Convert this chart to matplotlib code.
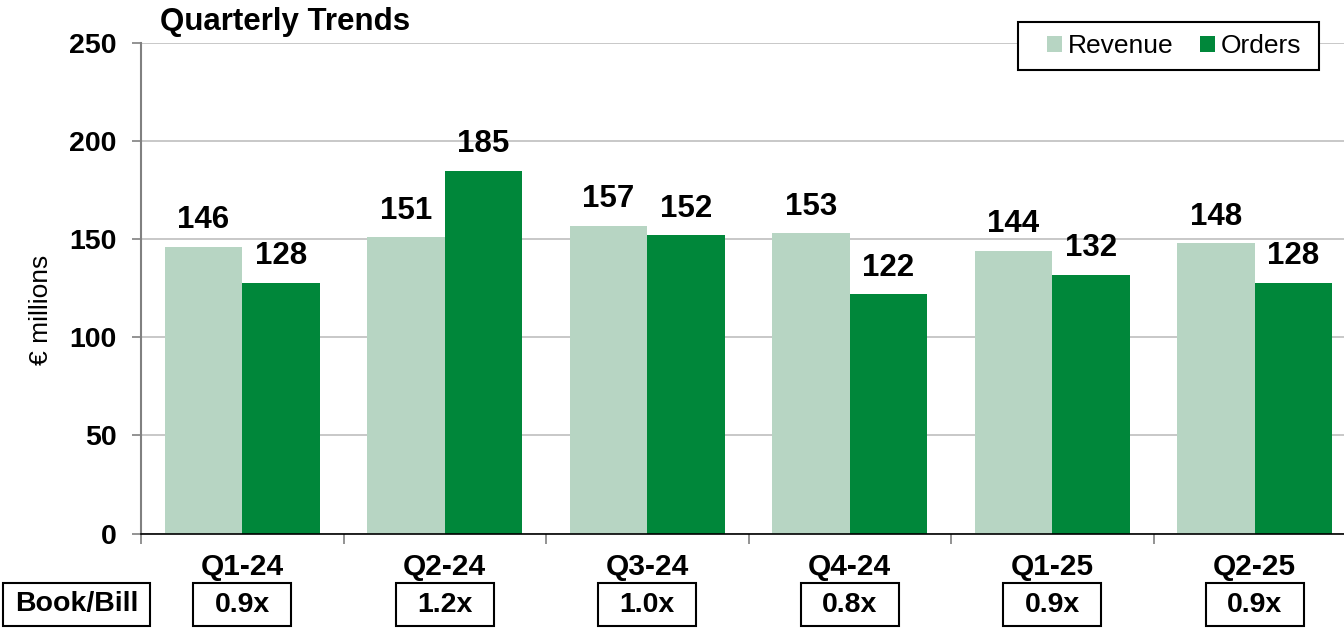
import matplotlib
matplotlib.use("Agg")
import matplotlib.pyplot as plt
import matplotlib.transforms as mtransforms
from matplotlib.patches import Rectangle, Patch
import numpy as np

plt.rcParams['font.family'] = ['Liberation Sans', 'DejaVu Sans']

quarters = ["Q1-24", "Q2-24", "Q3-24", "Q4-24", "Q1-25", "Q2-25"]
revenue = [146, 151, 157, 153, 144, 148]
orders = [128, 185, 152, 122, 132, 128]
book_bill = ["0.9x", "1.2x", "1.0x", "0.8x", "0.9x", "0.9x"]
yticks = [0, 50, 100, 150, 200, 250]

c_rev = "#b7d5c3"
c_ord = "#00873a"

W, H = 1344, 628
fig = plt.figure(figsize=(W / 100, H / 100), dpi=100)
left_px, right_px, top_px, bot_px = 141, 1356, 43.3, 533.5
ax = fig.add_axes([left_px / W, 1 - bot_px / H, (right_px - left_px) / W, (bot_px - top_px) / H])

x = np.arange(len(quarters))
bw = 0.383
b1 = ax.bar(x - bw / 2, revenue, bw, color=c_rev, zorder=3)
b2 = ax.bar(x + bw / 2, orders, bw, color=c_ord, zorder=3)

for bars, vals in ((b1, revenue), (b2, orders)):
    for r, v in zip(bars, vals):
        ax.annotate(f"{v}", (r.get_x() + r.get_width() / 2, v), xytext=(0, 13.5),
                    textcoords="offset points", ha="center", va="baseline",
                    fontsize=22.5, fontweight="bold", color="black")

ax.set_xlim(-0.5, len(quarters) - 0.5)
ax.set_ylim(0, 250)
ax.set_yticks(yticks)
ax.set_yticklabels([str(t) for t in yticks], fontsize=20.5, fontweight="bold")
ax.tick_params(axis="y", length=6.5, width=1.2, color="#808080", pad=11)
ax.set_xticks(np.arange(len(quarters) + 1) - 0.5)
ax.set_xticklabels([])
ax.tick_params(axis="x", length=7.5, width=1.2, color="#808080")

ax.yaxis.grid(True, color="#c8c8c8", linewidth=1.4, zorder=0)
ax.set_axisbelow(True)
for s in ("top", "right"):
    ax.spines[s].set_visible(False)
ax.spines["left"].set_color("#808080")
ax.spines["left"].set_linewidth(1.5)
ax.spines["bottom"].set_color("black")
ax.spines["bottom"].set_linewidth(1.2)
ax.spines["bottom"].set_zorder(4)

trans = mtransforms.blended_transform_factory(ax.transData, ax.transAxes)
yb_top = (bot_px - 583) / (bot_px - top_px)
yb_bot = (bot_px - 626) / (bot_px - top_px)
yq = (bot_px - 567) / (bot_px - top_px)
bw_box = 98 / ((right_px - left_px) / len(quarters))
for i, (q, bb) in enumerate(zip(quarters, book_bill)):
    ax.text(i, yq, q, transform=trans, ha="center", va="center",
            fontsize=21.5, fontweight="bold")
    ax.add_patch(Rectangle((i - bw_box / 2, yb_bot), bw_box, yb_top - yb_bot,
                           transform=trans, clip_on=False, fill=False,
                           edgecolor="black", linewidth=1.5))
    ax.text(i, (yb_top + yb_bot) / 2, bb, transform=trans, ha="center", va="center",
            fontsize=20.5, fontweight="bold")

# Book/Bill label box
fig.patches.append(Rectangle((3 / W, 1 - 626 / H), 147 / W, 43 / H, transform=fig.transFigure,
                             fill=False, edgecolor="black", linewidth=1.5))
fig.text(76.5 / W, 1 - 604.5 / H, "Book/Bill", ha="center", va="center",
         fontsize=20.5, fontweight="bold")

# y label
fig.text(41 / W, 1 - 310 / H, "€ millions", rotation=90, ha="center", va="center", fontsize=19)

# title
fig.text(160 / W, 1 - 22 / H, "Quarterly Trends", ha="left", va="center",
         fontsize=22.5, fontweight="bold")

# legend with manual frame
fig.patches.append(Rectangle((1018 / W, 1 - 70 / H), 301 / W, 48 / H, transform=fig.transFigure,
                             facecolor="white", edgecolor="black", linewidth=1.5, zorder=5))
handles = [Patch(facecolor=c_rev, edgecolor="none"), Patch(facecolor=c_ord, edgecolor="none")]
leg = fig.legend(handles, ["Revenue", "Orders"], loc="center left",
                 bbox_to_anchor=(1047 / W, 1 - 46 / H), bbox_transform=fig.transFigure,
                 ncol=2, frameon=False, fontsize=19, handlelength=0.56, handleheight=0.56,
                 handletextpad=0.24, columnspacing=1.0, borderpad=0, borderaxespad=0)
leg.set_zorder(6)

fig.savefig("out.png", dpi=100)
